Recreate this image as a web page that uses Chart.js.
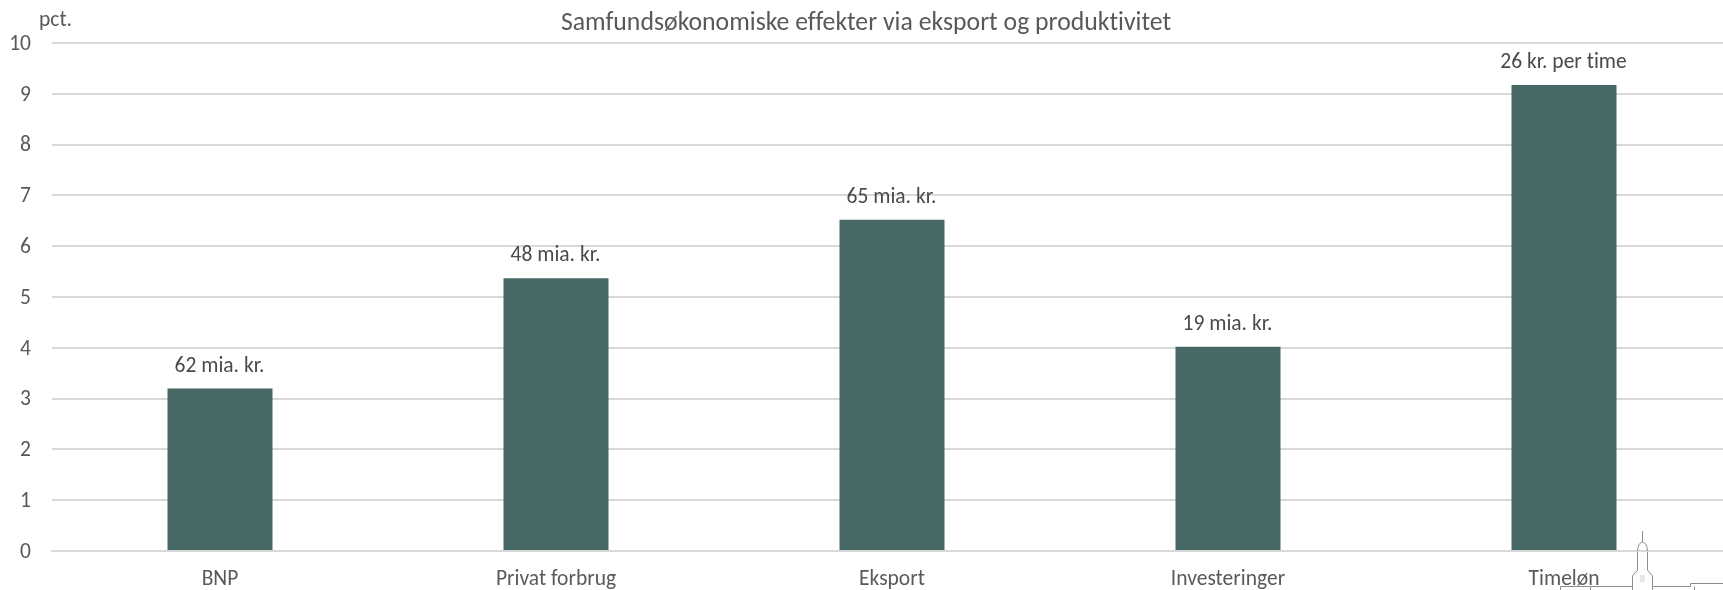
<!DOCTYPE html>
<html>
<head>
<meta charset="utf-8">
<script src="https://cdn.jsdelivr.net/npm/chart.js@4"></script>
<style>
html, body { margin: 0; padding: 0; background: #fff; overflow: hidden; }
#wrap { position: relative; width: 1723px; height: 590px; overflow: hidden; }
</style>
</head>
<body>
<div id="wrap"><canvas id="chart" width="1732" height="590"></canvas></div>
<script>
const categories = ['BNP', 'Privat forbrug', 'Eksport', 'Investeringer', 'Timeløn'];
const values = [3.2, 5.37, 6.52, 4.02, 9.17];
const valueLabels = ['62 mia. kr.', '48 mia. kr.', '65 mia. kr.', '19 mia. kr.', '26 kr. per time'];
const yTicks = [0, 1, 2, 3, 4, 5, 6, 7, 8, 9, 10];

const FONT = 'Carlito, "Open Sans", "Noto Sans", sans-serif';
const INK = '#595959';
const SIZE = 21.5;

// tårnet i logoet nederst til højre
function drawLogo(ctx) {
    ctx.save();
    ctx.strokeStyle = '#8c8c8c';
    ctx.lineWidth = 1;
    ctx.beginPath();
    ctx.moveTo(1642.5, 531); ctx.lineTo(1642.5, 542);
    ctx.moveTo(1637.5, 551); ctx.quadraticCurveTo(1638, 543, 1642.5, 542); ctx.quadraticCurveTo(1647, 543, 1647.5, 551);
    ctx.moveTo(1637.5, 552); ctx.lineTo(1637.5, 570); ctx.lineTo(1632.5, 576); ctx.lineTo(1632.5, 590);
    ctx.moveTo(1647.5, 552); ctx.lineTo(1647.5, 570); ctx.lineTo(1652.5, 576); ctx.lineTo(1652.5, 590);
    ctx.moveTo(1560.5, 590); ctx.lineTo(1560.5, 586.5); ctx.lineTo(1590, 586.5);
    ctx.moveTo(1590.5, 590); ctx.lineTo(1590.5, 586.5); ctx.lineTo(1632.5, 586.5);
    ctx.moveTo(1652.5, 586.5); ctx.lineTo(1690.5, 586.5); ctx.lineTo(1690.5, 583.5); ctx.lineTo(1723, 583.5);
    ctx.moveTo(1694.5, 586.5); ctx.lineTo(1694.5, 590);
    ctx.stroke();
    ctx.fillStyle = '#e6e6e6';
    ctx.fillRect(1640, 575, 5, 7);
    ctx.restore();
}

// etiketter over søjlerne + "pct."
const labelPlugin = {
    id: 'labels',
    beforeDraw(chart) {
        chart.ctx.textRendering = 'optimizeSpeed'; // ingen ti-ligaturer
    },
    afterDatasetsDraw(chart) {
        const { ctx } = chart;
        const meta = chart.getDatasetMeta(0);
        ctx.save();
        ctx.font = SIZE + 'px ' + FONT;
        ctx.fillStyle = '#4a4a4a';
        ctx.textAlign = 'center';
        ctx.textBaseline = 'bottom';
        meta.data.forEach((bar, i) => ctx.fillText(valueLabels[i], bar.x - 0.5, bar.y - 11.5));
        ctx.fillStyle = INK;
        ctx.textAlign = 'left';
        ctx.textBaseline = 'middle';
        ctx.fillText('pct.', 39, 21);
        ctx.restore();
        drawLogo(ctx);
    },
};

new Chart(document.getElementById('chart'), {
    type: 'bar',
    data: {
        labels: categories,
        datasets: [{
            data: values,
            backgroundColor: '#466965',
            barPercentage: 0.3125,
            categoryPercentage: 1,
        }],
    },
    options: {
        responsive: false,
        animation: false,
        plugins: {
            legend: { display: false },
            tooltip: { enabled: false },
            title: {
                display: true,
                text: 'Samfundsøkonomiske effekter via eksport og produktivitet',
                color: INK,
                font: { family: FONT, size: 25.75, weight: 'normal' },
                padding: { top: 8, bottom: 4 },
            },
        },
        scales: {
            x: {
                afterFit: (axis) => { axis.height = 39; },
                grid: { display: false },
                border: { color: '#d9d9d9', width: 2 },
                ticks: { color: INK, font: { family: FONT, size: SIZE }, padding: 8, maxRotation: 0 },
            },
            y: {
                min: 0,
                max: 10,
                afterFit: (axis) => { axis.width = 52; },
                afterBuildTicks: (axis) => { axis.ticks = yTicks.map((v) => ({ value: v })); },
                grid: { color: '#d9d9d9', lineWidth: 2, drawTicks: false },
                border: { display: false },
                ticks: { color: INK, font: { family: FONT, size: SIZE }, padding: 21, labelOffset: 1.5 },
            },
        },
    },
    plugins: [labelPlugin],
});
</script>
</body>
</html>
